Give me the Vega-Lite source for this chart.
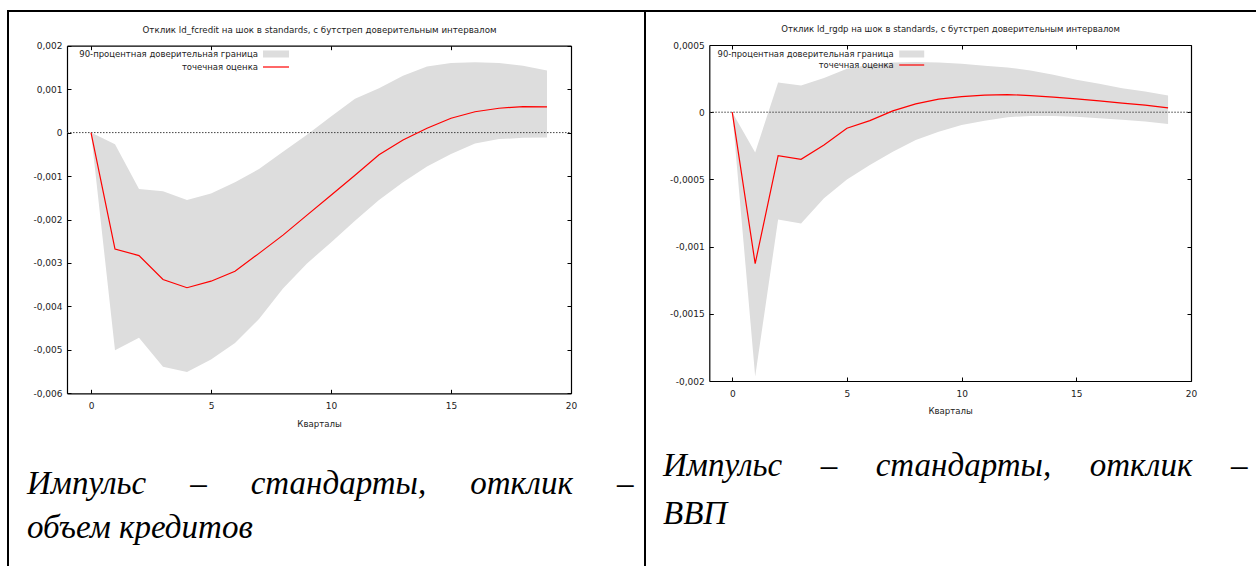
{
  "$schema": "https://vega.github.io/schema/vega-lite/v6.json",
  "background": "white",
  "padding": {"left": 7, "top": 10, "right": 0, "bottom": 0},
  "autosize": {"type": "pad"},
  "bounds": "flush",
  "spacing": 0,
  "resolve": {"scale": {"color": "independent"}, "legend": {"color": "independent"}},
  "config": {
    "locale": {"number": {"decimal": ",", "thousands": "\u00a0", "grouping": [3], "currency": ["", ""], "minus": "-"}},
    "view": {"stroke": "black", "strokeWidth": 2},
    "axis": {
      "domainColor": "black", "domainWidth": 1.2, "tickColor": "black", "tickSize": -4, "tickWidth": 1,
      "labelFont": "DejaVu Sans", "labelFontSize": 9, "labelColor": "#222",
      "titleFont": "DejaVu Sans", "titleFontSize": 8.6, "titleFontWeight": "normal", "titleColor": "#222",
      "grid": false, "labelFlush": false, "labelOverlap": false
    },
    "title": {"font": "Liberation Serif", "fontStyle": "italic", "fontWeight": "normal", "color": "black", "fontSize": 33, "lineHeight": 45, "anchor": "start", "frame": "group", "orient": "bottom", "baseline": "alphabetic"}
  },
  "hconcat": [
    {
      "width": 637,
      "height": 560,
      "title": {"text": ["Импульс\u2003\u2005\u200a–\u2003\u2005\u200aстандарты,\u2003\u2005\u200aотклик\u2003\u2005\u200a–", "объем кредитов"], "offset": -103, "dx": 19, "lineHeight": 44},
      "data": {"values": [
        {"q": 0, "lo": 0, "hi": 0, "est": 0},
        {"q": 1, "lo": -0.00501, "hi": -0.00027, "est": -0.00268},
        {"q": 2, "lo": -0.00472, "hi": -0.00130, "est": -0.00283},
        {"q": 3, "lo": -0.00539, "hi": -0.00135, "est": -0.00338},
        {"q": 4, "lo": -0.00551, "hi": -0.00155, "est": -0.00357},
        {"q": 5, "lo": -0.00522, "hi": -0.00140, "est": -0.00342},
        {"q": 6, "lo": -0.00484, "hi": -0.00114, "est": -0.00319},
        {"q": 7, "lo": -0.00429, "hi": -0.00084, "est": -0.00278},
        {"q": 8, "lo": -0.00359, "hi": -0.00044, "est": -0.00236},
        {"q": 9, "lo": -0.00301, "hi": -0.00005, "est": -0.00190},
        {"q": 10, "lo": -0.00253, "hi": 0.00037, "est": -0.00144},
        {"q": 11, "lo": -0.00203, "hi": 0.00078, "est": -0.00098},
        {"q": 12, "lo": -0.00155, "hi": 0.00102, "est": -0.00051},
        {"q": 13, "lo": -0.00114, "hi": 0.00131, "est": -0.00017},
        {"q": 14, "lo": -0.00078, "hi": 0.00152, "est": 0.00010},
        {"q": 15, "lo": -0.00049, "hi": 0.00160, "est": 0.00033},
        {"q": 16, "lo": -0.00025, "hi": 0.00162, "est": 0.00048},
        {"q": 17, "lo": -0.00015, "hi": 0.00160, "est": 0.00056},
        {"q": 18, "lo": -0.00012, "hi": 0.00154, "est": 0.00060},
        {"q": 19, "lo": -0.00011, "hi": 0.00143, "est": 0.00059}
      ]},
      "resolve": {"axis": {"x": "independent", "y": "independent"}},
      "layer": [
        {
          "mark": {"type": "area", "opacity": 1},
          "encoding": {
            "x": {"field": "q", "type": "quantitative",
              "scale": {"domain": [-1, 20], "range": [59, 563], "nice": false, "zero": false},
              "axis": {"orient": "bottom", "offset": -177.7, "values": [0, 5, 10, 15, 20], "title": "Кварталы", "labelPadding": 12, "titlePadding": 9}},
            "y": {"field": "lo", "type": "quantitative",
              "scale": {"domain": [-0.006, 0.002], "range": [382.3, 34.7], "nice": false, "zero": false},
              "axis": {"orient": "left", "offset": -59, "values": [-0.006, -0.005, -0.004, -0.003, -0.002, -0.001, 0, 0.001, 0.002], "format": "~g", "title": null, "labelPadding": 9}},
            "y2": {"field": "hi"},
            "color": {"datum": "90-процентная доверительная граница", "type": "nominal",
              "scale": {"domain": ["90-процентная доверительная граница", "точечная оценка"], "range": ["#dddddd", "#ff0000"]},
              "legend": {
                "orient": "none", "legendX": 263, "legendY": 38, "title": null, "padding": 0,
                "labelFont": "DejaVu Sans", "labelFontSize": 8.5, "labelColor": "#222", "labelAlign": "right", "labelLimit": 400,
                "symbolSize": 100, "symbolStrokeWidth": 0, "symbolOpacity": 1, "rowPadding": 3,
                "encode": {
                  "symbols": {"update": {
                    "shape": {"signal": "datum.value === 'точечная оценка' ? 'M-2.6,-0.12L2.6,-0.12L2.6,0.12L-2.6,0.12Z' : 'M-2.6,-0.7L2.6,-0.7L2.6,0.7L-2.6,0.7Z'"},
                    "fill": {"signal": "datum.value === 'точечная оценка' ? '#ff0000' : '#dddddd'"},
                    "stroke": {"value": "transparent"},
                    "strokeWidth": {"value": 0},
                    "opacity": {"value": 1}
                  }},
                  "labels": {"update": {"x": {"value": -13}, "align": {"value": "right"}}}
                }
              }}
          }
        },
        {
          "data": {"values": [{"zero": 0, "start": -1, "end": 20}]},
          "mark": {"type": "rule", "color": "#444", "strokeDash": [1.5, 1.5], "strokeWidth": 1},
          "encoding": {
            "x": {"field": "start", "type": "quantitative", "scale": {"domain": [-1, 20], "range": [59, 563], "nice": false, "zero": false}, "axis": null},
            "x2": {"field": "end"},
            "y": {"field": "zero", "type": "quantitative", "scale": {"domain": [-0.006, 0.002], "range": [382.3, 34.7], "nice": false, "zero": false}, "axis": null}
          }
        },
        {
          "mark": {"type": "line", "strokeWidth": 1.2},
          "encoding": {
            "x": {"field": "q", "type": "quantitative",
              "scale": {"domain": [-1, 20], "range": [59, 563], "nice": false, "zero": false},
              "axis": {"orient": "top", "offset": -34.7, "values": [0, 5, 10, 15, 20], "labels": false, "title": "Отклик ld_fcredit на шок в standards, с бутстреп доверительным интервалом", "titlePadding": 11, "titleFontSize": 8.7}},
            "y": {"field": "est", "type": "quantitative",
              "scale": {"domain": [-0.006, 0.002], "range": [382.3, 34.7], "nice": false, "zero": false},
              "axis": {"orient": "right", "offset": -74, "values": [-0.006, -0.005, -0.004, -0.003, -0.002, -0.001, 0, 0.001, 0.002], "labels": false, "title": null}},
            "color": {"datum": "точечная оценка", "type": "nominal"}
          }
        }
      ]
    },
    {
      "width": 620,
      "height": 560,
      "title": {"text": ["Импульс\u2003\u2006–\u2003\u2006стандарты,\u2003\u2006отклик\u2003\u2006–", "ВВП"], "offset": -121, "dx": 18, "lineHeight": 48},
      "data": {"values": [
        {"q": 0, "lo": 0, "hi": 0, "est": 0},
        {"q": 1, "lo": -0.001966, "hi": -0.000299, "est": -0.001127},
        {"q": 2, "lo": -0.000799, "hi": 0.000221, "est": -0.000324},
        {"q": 3, "lo": -0.000829, "hi": 0.000199, "est": -0.000351},
        {"q": 4, "lo": -0.000640, "hi": 0.000254, "est": -0.000244},
        {"q": 5, "lo": -0.000500, "hi": 0.000323, "est": -0.000119},
        {"q": 6, "lo": -0.000393, "hi": 0.000353, "est": -0.000063},
        {"q": 7, "lo": -0.000294, "hi": 0.000370, "est": 0.000010},
        {"q": 8, "lo": -0.000207, "hi": 0.000373, "est": 0.000062},
        {"q": 9, "lo": -0.000145, "hi": 0.000370, "est": 0.000097},
        {"q": 10, "lo": -0.000095, "hi": 0.000360, "est": 0.000116},
        {"q": 11, "lo": -0.000063, "hi": 0.000346, "est": 0.000127},
        {"q": 12, "lo": -0.000037, "hi": 0.000333, "est": 0.000131},
        {"q": 13, "lo": -0.000028, "hi": 0.000311, "est": 0.000124},
        {"q": 14, "lo": -0.000028, "hi": 0.000278, "est": 0.000112},
        {"q": 15, "lo": -0.000033, "hi": 0.000241, "est": 0.000099},
        {"q": 16, "lo": -0.000045, "hi": 0.000211, "est": 0.000084},
        {"q": 17, "lo": -0.000057, "hi": 0.000179, "est": 0.000067},
        {"q": 18, "lo": -0.000070, "hi": 0.000154, "est": 0.000052},
        {"q": 19, "lo": -0.000087, "hi": 0.000124, "est": 0.000032}
      ]},
      "resolve": {"axis": {"x": "independent", "y": "independent"}},
      "layer": [
        {
          "mark": {"type": "area", "opacity": 1},
          "encoding": {
            "x": {"field": "q", "type": "quantitative",
              "scale": {"domain": [-1, 20], "range": [64.3, 546], "nice": false, "zero": false},
              "axis": {"orient": "bottom", "offset": -190, "values": [0, 5, 10, 15, 20], "title": "Кварталы", "labelPadding": 12, "titlePadding": 8}},
            "y": {"field": "lo", "type": "quantitative",
              "scale": {"domain": [-0.002, 0.0005], "range": [370, 34], "nice": false, "zero": false},
              "axis": {"orient": "left", "offset": -64.3, "values": [-0.002, -0.0015, -0.001, -0.0005, 0, 0.0005], "format": "~g", "title": null, "labelPadding": 9}},
            "y2": {"field": "hi"},
            "color": {"datum": "90-процентная доверительная граница", "type": "nominal",
              "scale": {"domain": ["90-процентная доверительная граница", "точечная оценка"], "range": ["#dddddd", "#ff0000"]},
              "legend": {
                "orient": "none", "legendX": 261.7, "legendY": 38, "title": null, "padding": 0,
                "labelFont": "DejaVu Sans", "labelFontSize": 8.4, "labelColor": "#222", "labelAlign": "right", "labelLimit": 400,
                "symbolSize": 100, "symbolStrokeWidth": 0, "symbolOpacity": 1, "rowPadding": 1,
                "encode": {
                  "symbols": {"update": {
                    "shape": {"signal": "datum.value === 'точечная оценка' ? 'M-2.5,-0.12L2.5,-0.12L2.5,0.12L-2.5,0.12Z' : 'M-2.5,-0.7L2.5,-0.7L2.5,0.7L-2.5,0.7Z'"},
                    "fill": {"signal": "datum.value === 'точечная оценка' ? '#ff0000' : '#dddddd'"},
                    "stroke": {"value": "transparent"},
                    "strokeWidth": {"value": 0},
                    "opacity": {"value": 1}
                  }},
                  "labels": {"update": {"x": {"value": -13}, "align": {"value": "right"}}}
                }
              }}
          }
        },
        {
          "data": {"values": [{"zero": 0, "start": -1, "end": 20}]},
          "mark": {"type": "rule", "color": "#444", "strokeDash": [1.5, 1.5], "strokeWidth": 1},
          "encoding": {
            "x": {"field": "start", "type": "quantitative", "scale": {"domain": [-1, 20], "range": [64.3, 546], "nice": false, "zero": false}, "axis": null},
            "x2": {"field": "end"},
            "y": {"field": "zero", "type": "quantitative", "scale": {"domain": [-0.002, 0.0005], "range": [370, 34], "nice": false, "zero": false}, "axis": null}
          }
        },
        {
          "mark": {"type": "line", "strokeWidth": 1.2},
          "encoding": {
            "x": {"field": "q", "type": "quantitative",
              "scale": {"domain": [-1, 20], "range": [64.3, 546], "nice": false, "zero": false},
              "axis": {"orient": "top", "offset": -34, "values": [0, 5, 10, 15, 20], "labels": false, "title": "Отклик ld_rgdp на шок в standards, с бутстреп доверительным интервалом", "titlePadding": 11, "titleFontSize": 8.5}},
            "y": {"field": "est", "type": "quantitative",
              "scale": {"domain": [-0.002, 0.0005], "range": [370, 34], "nice": false, "zero": false},
              "axis": {"orient": "right", "offset": -74, "values": [-0.002, -0.0015, -0.001, -0.0005, 0, 0.0005], "labels": false, "title": null}},
            "color": {"datum": "точечная оценка", "type": "nominal"}
          }
        }
      ]
    }
  ]
}
